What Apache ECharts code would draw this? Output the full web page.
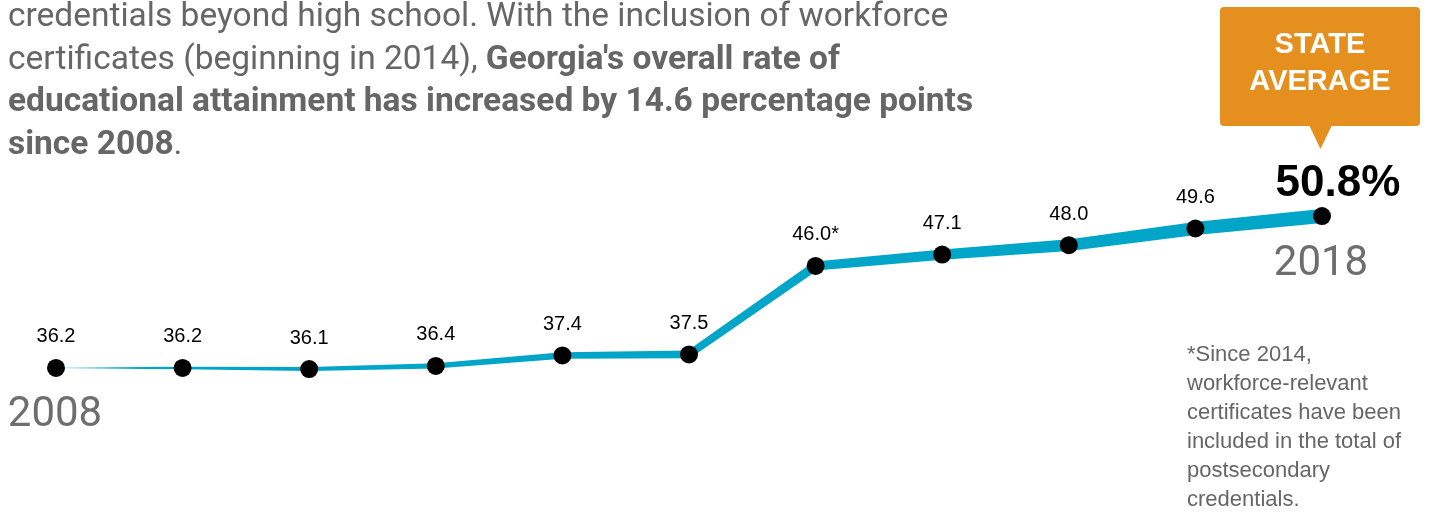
<!DOCTYPE html>
<html><head><meta charset="utf-8">
<script src="https://cdn.jsdelivr.net/npm/echarts@6/dist/echarts.min.js"></script>
<style>html,body{margin:0;padding:0;background:#fff}#c{width:1432px;height:512px}</style>
</head><body><div id="c"></div>
<script>
var years = [2008, 2009, 2010, 2011, 2012, 2013, 2014, 2015, 2016, 2017, 2018];
var values = [36.2, 36.2, 36.1, 36.4, 37.4, 37.5, 46.0, 47.1, 48.0, 49.6, 50.8];
var pointLabels = ['36.2', '36.2', '36.1', '36.4', '37.4', '37.5', '46.0*', '47.1', '48.0', '49.6', '50.8%'];
var introLines = [
  [['n', 'credentials beyond high school. With the inclusion of workforce']],
  [['n', 'certificates (beginning in 2014), '], ['b', "Georgia's overall rate of"]],
  [['b', 'educational attainment has increased by 14.6 percentage points']],
  [['b', 'since 2008'], ['n', '.']]
];
var calloutText = 'STATE\nAVERAGE';
var footnote = '*Since 2014,\nworkforce-relevant\ncertificates have been\nincluded in the total of\npostsecondary\ncredentials.';

var LINE = '#00A5C8';
var n = values.length;
var segData = [];
for (var i = 0; i < n - 1; i++) segData.push([i, values[i], i + 1, values[i + 1]]);

function halfW(idx) { return (1.2 + 1.3 * idx) / 2; }

var chart = echarts.init(document.getElementById('c'), null, {renderer: 'canvas'});
var sans = "'Liberation Sans', Arial, sans-serif";
var roboto = "'Roboto', 'Liberation Sans', sans-serif";

var graphics = [];
var lineMid = [18, 60.4, 102.8, 145.2];
introLines.forEach(function (parts, k) {
  graphics.push({
    type: 'text', x: 8, y: lineMid[k],
    style: {
      text: parts.map(function (p) { return '{' + p[0] + '|' + p[1] + '}'; }).join(''),
      verticalAlign: 'middle',
      rich: {
        n: {fontFamily: roboto, fontSize: 33.5, fill: '#666', fontWeight: 'normal'},
        b: {fontFamily: roboto, fontSize: 33.5, fill: '#666', fontWeight: 'bold'}
      }
    }
  });
});
graphics.push({
  type: 'group', x: 1220, y: 7,
  children: [
    {type: 'rect', shape: {x: 0, y: 0, width: 200, height: 119, r: 4}, style: {fill: '#E48F1E'}},
    {type: 'polygon', shape: {points: [[89, 118], [112, 118], [100.5, 142]]}, style: {fill: '#E48F1E'}},
    {type: 'text', x: 100, y: 56, style: {text: calloutText, fill: '#fff', fontFamily: sans, fontWeight: 'bold', fontSize: 29, lineHeight: 37, align: 'center', verticalAlign: 'middle'}}
  ]
});
graphics.push({
  type: 'text', x: 1187, y: 340,
  style: {text: footnote, fill: '#666', fontFamily: sans, fontSize: 22, lineHeight: 29, verticalAlign: 'top'}
});

var markerData = values.map(function (v, i) {
  var d = {value: [i, v], label: {formatter: pointLabels[i]}};
  if (i === n - 1) {
    d.label = {formatter: pointLabels[i], fontSize: 44, fontWeight: 'bold', color: '#000', offset: [16, 11]};
  }
  return d;
});
var yearData = [0, n - 1].map(function (i) {
  return {value: [i, values[i]], label: {formatter: String(years[i])}};
});

chart.setOption({
  animation: false,
  grid: {left: 56, right: 110, top: 172.3, bottom: 79.5},
  xAxis: {type: 'value', min: 0, max: n - 1, show: false},
  yAxis: {type: 'value', min: 30, max: 55, show: false},
  graphic: graphics,
  series: [
    {
      type: 'custom',
      data: segData,
      encode: {x: [0, 2], y: [1, 3]},
      silent: true,
      renderItem: function (params, api) {
        var i0 = api.value(0), i1 = api.value(2);
        var p0 = api.coord([i0, api.value(1)]);
        var p1 = api.coord([i1, api.value(3)]);
        var dx = p1[0] - p0[0], dy = p1[1] - p0[1];
        var len = Math.sqrt(dx * dx + dy * dy);
        var nx = -dy / len, ny = dx / len;
        var h0 = halfW(i0), h1 = halfW(i1);
        var pts = [
          [p0[0] + nx * h0, p0[1] + ny * h0],
          [p1[0] + nx * h1, p1[1] + ny * h1],
          [p1[0] - nx * h1, p1[1] - ny * h1],
          [p0[0] - nx * h0, p0[1] - ny * h0]
        ];
        var fill = LINE;
        if (params.dataIndex === 0) {
          fill = new echarts.graphic.LinearGradient(0, 0, 1, 0, [
            {offset: 0, color: 'rgba(0,165,200,0.12)'},
            {offset: 0.7, color: LINE},
            {offset: 1, color: LINE}
          ]);
        }
        return {type: 'polygon', shape: {points: pts}, style: {fill: fill}};
      }
    },
    {
      type: 'scatter',
      data: markerData,
      symbol: 'circle',
      symbolSize: 18,
      itemStyle: {color: '#000', opacity: 1},
      silent: true,
      z: 5,
      label: {show: true, position: 'top', distance: 12, color: '#000', fontFamily: sans, fontSize: 20}
    },
    {
      type: 'scatter',
      data: yearData,
      symbolSize: 0,
      silent: true,
      itemStyle: {opacity: 1},
      label: {show: true, position: 'bottom', distance: 26, color: '#6e6e6e', fontFamily: roboto, fontSize: 42, offset: [-1, 1]}
    }
  ]
});
</script>
</body></html>
